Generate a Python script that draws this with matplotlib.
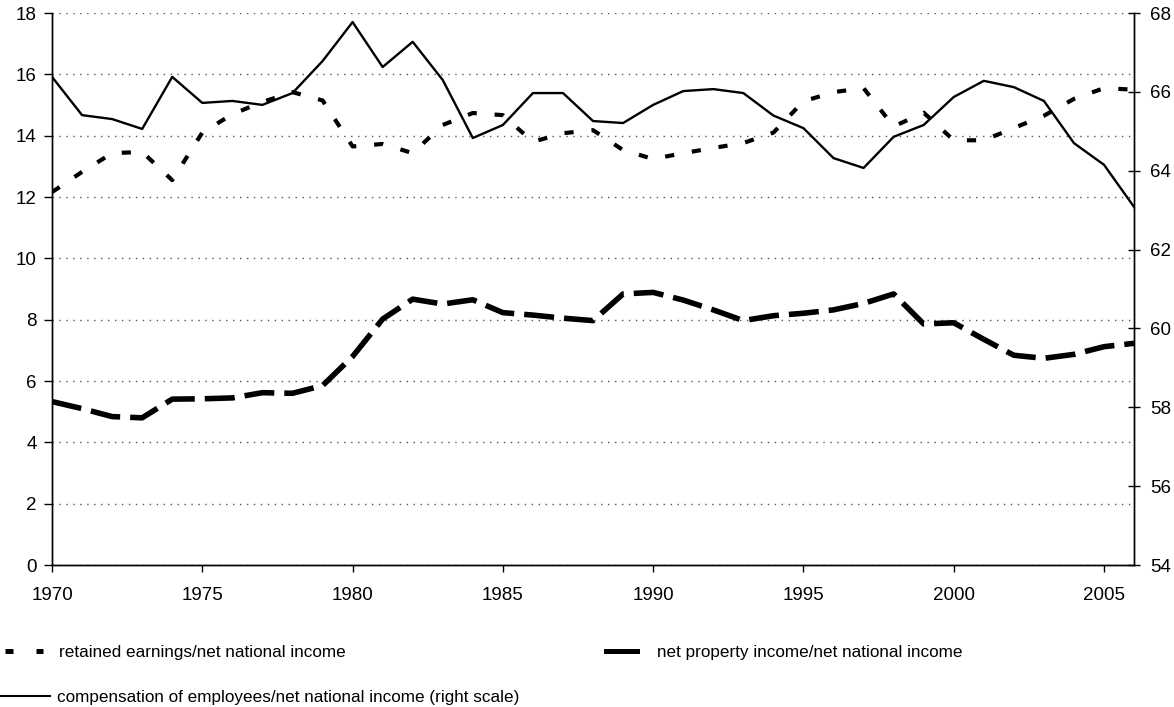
import matplotlib
matplotlib.use("Agg")
import matplotlib.pyplot as plt
from matplotlib.lines import Line2D

plt.rcParams["font.family"] = ["Liberation Sans", "DejaVu Sans"]

years = list(range(1970, 2007))
# left scale (%)
retained = [12.16, 12.82, 13.43, 13.47, 12.55, 14.1, 14.7, 15.1, 15.42, 15.15,
            13.65, 13.73, 13.43, 14.35, 14.74, 14.67, 13.8, 14.08, 14.18, 13.53,
            13.24, 13.43, 13.6, 13.76, 14.1, 15.12, 15.42, 15.55, 14.3, 14.75,
            13.85, 13.85, 14.25, 14.65, 15.2, 15.55, 15.5]
net_property = [5.33, 5.1, 4.84, 4.8, 5.41, 5.42, 5.45, 5.62, 5.6, 5.85,
                6.8, 8.02, 8.67, 8.51, 8.65, 8.23, 8.15, 8.05, 7.97, 8.84,
                8.89, 8.64, 8.32, 7.97, 8.13, 8.21, 8.32, 8.53, 8.84, 7.86,
                7.9, 7.36, 6.84, 6.74, 6.87, 7.12, 7.23]
# right scale (%)
compensation = [66.38, 65.41, 65.31, 65.06, 66.38, 65.72, 65.77, 65.67, 65.97, 66.78,
                67.77, 66.63, 67.27, 66.3, 64.83, 65.16, 65.97, 65.97, 65.26, 65.21,
                65.67, 66.02, 66.07, 65.97, 65.4, 65.08, 64.32, 64.07, 64.86, 65.16,
                65.87, 66.28, 66.12, 65.77, 64.7, 64.15, 63.08]

labels = ["retained earnings/net national income",
          "net property income/net national income",
          "compensation of employees/net national income (right scale)"]

fig = plt.figure(figsize=(11.74, 7.07), dpi=100)
ax = fig.add_axes([0.0443, 0.2008, 0.9217, 0.7808])
ax2 = ax.twinx()

ax.plot(years, retained, color="black", lw=3, dashes=(2.2, 4.3), zorder=3)
ax.plot(years, net_property, color="black", lw=4, dashes=(5.4, 1.8), zorder=3)
ax2.plot(years, compensation, color="black", lw=1.7, zorder=3)

ax.set_xlim(1970, 2006)
ax.set_ylim(0, 18)
ax2.set_ylim(54, 68)
ax.set_xticks(range(1970, 2006, 5))
ax.set_yticks(range(0, 19, 2))
ax2.set_yticks(range(54, 69, 2))

ax.grid(axis="y", color="#555555", ls=(0, (1, 4)), lw=1)
ax.grid(axis="x", visible=False)
ax.set_axisbelow(True)

for a in (ax, ax2):
    a.spines["top"].set_visible(False)
    for s in ("left", "right", "bottom"):
        a.spines[s].set_color("black")
        a.spines[s].set_linewidth(1)

ax.tick_params(axis="x", length=5, width=1, pad=11, labelsize=13.5)
ax.tick_params(axis="y", length=6, width=1, pad=5, labelsize=13.5)
ax2.tick_params(axis="y", direction="inout", length=9, width=1, pad=7, labelsize=13.5)

# legend below the plot
h_ret = Line2D([], [], color="black", lw=3.6, dashes=(1.6, 4.6))
h_net = Line2D([], [], color="black", lw=3.6)
h_comp = Line2D([], [], color="black", lw=1.5)
common = dict(frameon=False, fontsize=12.3, borderaxespad=0, borderpad=0)
fig.legend([h_ret], [labels[0]], loc="center left", bbox_to_anchor=(0.004, 0.077),
           handlelength=2.25, handletextpad=0.9, **common)
fig.legend([h_net], [labels[1]], loc="center left", bbox_to_anchor=(0.516, 0.077),
           handlelength=1.8, handletextpad=1.2, **common)
fig.legend([h_comp], [labels[2]], loc="center left", bbox_to_anchor=(0.0, 0.014),
           handlelength=2.95, handletextpad=0.4, **common)

fig.savefig("out.png", dpi=100)
